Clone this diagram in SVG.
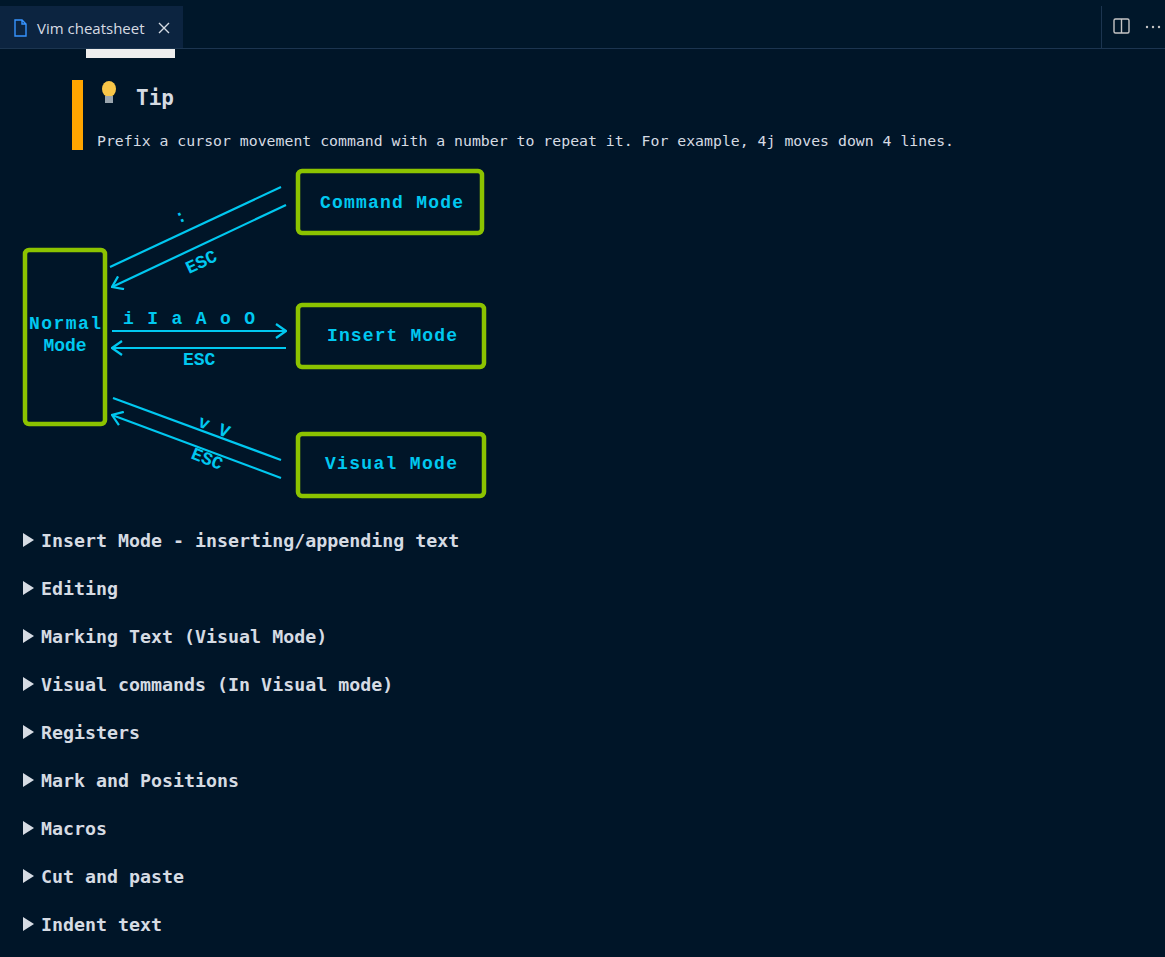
<svg xmlns="http://www.w3.org/2000/svg" width="1165" height="957" viewBox="0 0 1165 957">
<style>
.box{fill:none;stroke:#8cc300;stroke-width:4.5}
.ln{stroke:#00c8f0;stroke-width:2.2;fill:none}
.d{font-family:"Liberation Mono",monospace;font-weight:bold;font-size:18px;fill:#00c8f0}
.li{font-family:"DejaVu Sans Mono",monospace;font-weight:bold;font-size:18.3px;fill:#d6dbe3}
.tri{fill:#d6dbe3}
</style>
<defs>
<marker id="ah" viewBox="0 0 12 16" refX="11" refY="8" markerWidth="12" markerHeight="16" markerUnits="userSpaceOnUse" orient="auto">
<path d="M1,1 L11,8 L1,15" fill="none" stroke="#00c8f0" stroke-width="2.2"/>
</marker>
</defs>
<rect width="1165" height="957" fill="#001528"/>
<g id="tabbar">
<rect x="0" y="0" width="1165" height="48" fill="#00172a"/>
<rect x="0" y="6" width="183" height="42" fill="#0c2440"/>
<line x1="0" y1="48.5" x2="1165" y2="48.5" stroke="#1c3550"/>
<path d="M15,20 h7 l4,4 v12 h-11 z M22,20 v4 h4" fill="none" stroke="#3794ff" stroke-width="1.4"/>
<text x="37" y="34" font-family="'Open Sans',sans-serif" font-size="15" fill="#d6dbe3">Vim cheatsheet</text>
<path d="M159,23 l10,10 M169,23 l-10,10" stroke="#d6dbe3" stroke-width="1.4"/>
<line x1="1101.5" y1="6" x2="1101.5" y2="48" stroke="#1c3550"/>
<rect x="1114" y="19" width="15" height="14" rx="1.5" fill="none" stroke="#c5c5c5" stroke-width="1.4"/>
<line x1="1121.5" y1="19" x2="1121.5" y2="33" stroke="#c5c5c5" stroke-width="1.4"/>
<g fill="#c5c5c5"><circle cx="1147" cy="27" r="1.2"/><circle cx="1153" cy="27" r="1.2"/><circle cx="1159" cy="27" r="1.2"/></g>
</g>
<rect x="86" y="49" width="89" height="9" fill="#eeeeee"/>
<g id="tip">
<rect x="72" y="80" width="11" height="70" fill="#ffa500"/>
<ellipse cx="109" cy="89" rx="7" ry="8" fill="#f9c648"/>
<rect x="105" y="96" width="8" height="7" fill="#9aa5ae"/>
<text x="136" y="105" font-family="'DejaVu Sans Mono',monospace" font-weight="bold" font-size="21" fill="#d6dbe3">Tip</text>
<text x="97" y="146" font-family="'DejaVu Sans Mono',monospace" font-size="14.8" fill="#d6dbe3" textLength="857">Prefix a cursor movement command with a number to repeat it. For example, 4j moves down 4 lines.</text>
</g>
<g id="normal"><rect class="box" x="25" y="250" width="80" height="174" rx="4"/>
<text class="d" x="65" y="329" text-anchor="middle" textLength="72">Normal</text>
<text class="d" x="65" y="351" text-anchor="middle">Mode</text></g>
<g id="command"><rect class="box" x="298" y="171" width="184" height="62" rx="4"/>
<text class="d" x="320" y="208" textLength="143">Command Mode</text></g>
<g id="insert"><rect class="box" x="298" y="305" width="186" height="62" rx="4"/>
<text class="d" x="327" y="341" textLength="130">Insert Mode</text></g>
<g id="visual"><rect class="box" x="298" y="434" width="186" height="62" rx="4"/>
<text class="d" x="325" y="469" textLength="132">Visual Mode</text></g>
<g id="connectors">
<line class="ln" x1="110" y1="267" x2="281" y2="187"/>
<line class="ln" x1="286" y1="205" x2="112" y2="287" marker-end="url(#ah)"/>
<line class="ln" x1="112" y1="331" x2="286" y2="331" marker-end="url(#ah)"/>
<line class="ln" x1="286" y1="348" x2="112" y2="348" marker-end="url(#ah)"/>
<line class="ln" x1="113" y1="398" x2="281" y2="460"/>
<line class="ln" x1="281" y1="478" x2="112" y2="415" marker-end="url(#ah)"/>
<text class="d" transform="translate(178,224) rotate(-25)">:</text>
<text class="d" transform="translate(189,274) rotate(-25)">ESC</text>
<text class="d" x="123" y="324" textLength="132">i I a A o O</text>
<text class="d" x="183" y="365">ESC</text>
<text class="d" transform="translate(197,426) rotate(22)">v V</text>
<text class="d" transform="translate(190,458) rotate(22)">ESC</text>
</g>
<g id="list">
<path class="tri" d="M23,533 l11,7 l-11,7 z"/><text class="li" x="41" y="547">Insert Mode - inserting/appending text</text>
<path class="tri" d="M23,581 l11,7 l-11,7 z"/><text class="li" x="41" y="595">Editing</text>
<path class="tri" d="M23,629 l11,7 l-11,7 z"/><text class="li" x="41" y="643">Marking Text (Visual Mode)</text>
<path class="tri" d="M23,677 l11,7 l-11,7 z"/><text class="li" x="41" y="691">Visual commands (In Visual mode)</text>
<path class="tri" d="M23,725 l11,7 l-11,7 z"/><text class="li" x="41" y="739">Registers</text>
<path class="tri" d="M23,773 l11,7 l-11,7 z"/><text class="li" x="41" y="787">Mark and Positions</text>
<path class="tri" d="M23,821 l11,7 l-11,7 z"/><text class="li" x="41" y="835">Macros</text>
<path class="tri" d="M23,869 l11,7 l-11,7 z"/><text class="li" x="41" y="883">Cut and paste</text>
<path class="tri" d="M23,917 l11,7 l-11,7 z"/><text class="li" x="41" y="931">Indent text</text>
</g>
</svg>
